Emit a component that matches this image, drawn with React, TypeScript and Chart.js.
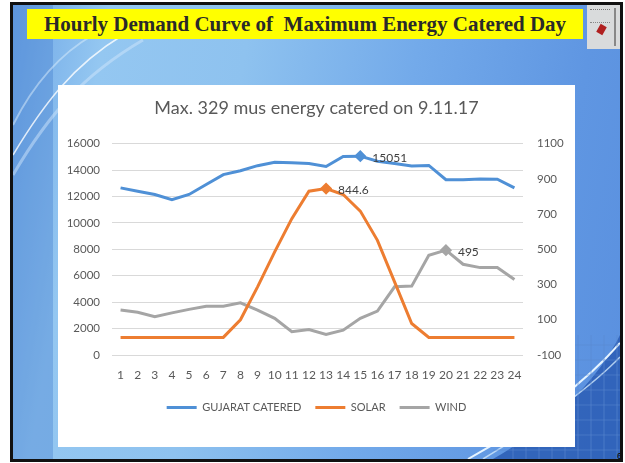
import React, { useEffect, useRef } from "react";
import { Chart, registerables } from "chart.js";

Chart.register(...registerables);

const hours = ["1","2","3","4","5","6","7","8","9","10","11","12","13","14","15","16","17","18","19","20","21","22","23","24"];
const gujaratCatered = [12650, 12400, 12150, 11750, 12150, 12900, 13650, 13950, 14330, 14580, 14550, 14500, 14270, 15030, 15051, 14660, 14500, 14300, 14350, 13270, 13260, 13330, 13300, 12650];
const solar = [0, 0, 0, 0, 0, 0, 0, 100, 287, 485, 674, 830, 844.6, 811, 717, 551, 315, 79, 0, 0, 0, 0, 0, 0];
const wind = [155, 143, 117, 139, 159, 177, 177, 196, 155, 108, 32, 45, 17, 41, 108, 149, 287, 291, 466, 495, 415, 396, 396, 328];
const peakIndex = [14, 12, 19];
const peakLabels = ["15051", "844.6", "495"];
const chartTitle = "Max. 329 mus energy catered on 9.11.17";
const slideTitle = "Hourly Demand Curve of  Maximum Energy Catered Day";

const FONT = "Lato, 'Liberation Sans', sans-serif";

const radiiFor = (peak: number) => hours.map((_, i) => (i === peak ? 4 : 0));

const peakLabelPlugin = {
  id: "peakLabels",
  afterDatasetsDraw(chart: any) {
    const ctx = chart.ctx;
    ctx.save();
    ctx.font = "12px " + FONT;
    ctx.fillStyle = "#404040";
    ctx.textAlign = "left";
    ctx.textBaseline = "middle";
    chart.data.datasets.forEach((ds: any, di: number) => {
      const meta = chart.getDatasetMeta(di);
      const el = meta.data[peakIndex[di]];
      if (el) ctx.fillText(peakLabels[di], el.x + 12, el.y + 2);
    });
    ctx.restore();
  },
};

function ChartBox() {
  const ref = useRef<HTMLCanvasElement | null>(null);
  useEffect(() => {
    if (!ref.current) return;
    const chart = new Chart(ref.current, {
      type: "line",
      data: {
        labels: hours,
        datasets: [
          {
            label: "GUJARAT CATERED",
            data: gujaratCatered,
            borderColor: "#4F90D6",
            backgroundColor: "#4F90D6",
            borderWidth: 3,
            yAxisID: "y",
            pointStyle: "rectRot",
            pointRadius: radiiFor(peakIndex[0]),
            tension: 0,
          },
          {
            label: "SOLAR",
            data: solar,
            borderColor: "#ED7D31",
            backgroundColor: "#ED7D31",
            borderWidth: 3,
            yAxisID: "y1",
            pointStyle: "rectRot",
            pointRadius: radiiFor(peakIndex[1]),
            tension: 0,
          },
          {
            label: "WIND",
            data: wind,
            borderColor: "#A5A5A5",
            backgroundColor: "#A5A5A5",
            borderWidth: 3,
            yAxisID: "y1",
            pointStyle: "rectRot",
            pointRadius: radiiFor(peakIndex[2]),
            tension: 0,
          },
        ],
      },
      options: {
        animation: false,
        responsive: false,
        maintainAspectRatio: false,
        layout: { padding: { top: 0, left: 0, right: 0, bottom: 24 } },
        plugins: {
          title: {
            display: true,
            text: chartTitle,
            color: "#595959",
            font: { family: FONT, size: 18, weight: "normal" },
            padding: { top: 12, bottom: 25 },
          },
          legend: {
            display: true,
            position: "bottom",
            labels: {
              usePointStyle: true,
              pointStyle: "line",
              pointStyleWidth: 30,
              color: "#595959",
              font: { family: FONT, size: 11 },
              padding: 14,
            },
          },
          tooltip: { enabled: false },
        },
        scales: {
          x: {
            offset: true,
            grid: { display: false, drawTicks: false },
            border: { display: false },
            ticks: {
              color: "#595959",
              font: { family: FONT, size: 12 },
              padding: 13,
              maxRotation: 0,
              autoSkip: false,
            },
            afterFit: (s: any) => { s.height = 33; },
          },
          y: {
            position: "left",
            min: 0,
            max: 16000,
            ticks: {
              stepSize: 2000,
              color: "#595959",
              font: { family: FONT, size: 11.5 },
              padding: 12,
              callback: (v: any) => String(v),
            },
            grid: { color: "#d9d9d9", drawTicks: false },
            border: { display: false },
            afterFit: (s: any) => { s.width = 54; },
          },
          y1: {
            position: "right",
            min: -100,
            max: 1100,
            ticks: {
              stepSize: 200,
              color: "#595959",
              font: { family: FONT, size: 11.5 },
              padding: 14,
              callback: (v: any) => String(v),
            },
            grid: { display: false, drawTicks: false },
            border: { display: false },
            afterFit: (s: any) => { s.width = 52; },
          },
        },
      },
      plugins: [peakLabelPlugin],
    } as any);
    return () => chart.destroy();
  }, []);
  return <canvas ref={ref} width={517} height={362} style={{ display: "block" }} />;
}

export default function App() {
  return (
    <div style={{ position: "fixed", left: 0, top: 0, width: 625, height: 463, background: "#fff", overflow: "hidden" }}>
      <div
        style={{
          position: "absolute",
          left: 10,
          top: 2,
          width: 607,
          height: 454,
          border: "3px solid #111",
          background: "linear-gradient(100deg, #6ea6e6 0%, #94c7f1 14%, #8ec2ef 35%, #73aaea 60%, #5f96e2 85%, #5a90df 100%)",
          overflow: "hidden",
        }}
      >
        <svg width={607} height={454} style={{ position: "absolute", left: 0, top: 0 }}>
          <rect x={0} y={0} width={40} height={454} fill="#3f78cc" opacity={0.35} />
          <path d="M0,150 C30,100 60,60 110,30" stroke="#ffffff" strokeWidth={1.5} fill="none" opacity={0.8} />
          <path d="M0,170 C35,110 70,70 130,35" stroke="#cfe6fb" strokeWidth={3} fill="none" opacity={0.5} />
          <path d="M0,120 C20,80 45,50 80,30" stroke="#dbeefc" strokeWidth={2} fill="none" opacity={0.5} />
          <path d="M480,454 C540,420 585,375 607,330 L607,454 Z" fill="#2f62b8" opacity={0.95} />
          <path d="M455,454 C520,418 575,375 607,338" stroke="#e6f4ff" strokeWidth={2} fill="none" />
          <path d="M470,454 C535,415 585,375 607,352" stroke="#cfe7fb" strokeWidth={1.5} fill="none" opacity={0.8} />
          {[0, 1, 2, 3, 4, 5, 6, 7, 8].map((i) => (
            <line key={i} x1={500 + i * 13} y1={454} x2={500 + i * 13} y2={330} stroke="#5a8ad0" strokeWidth={1} opacity={0.6} />
          ))}
          {[0, 1, 2, 3, 4, 5, 6, 7].map((i) => (
            <line key={"h" + i} x1={480} y1={340 + i * 15} x2={607} y2={340 + i * 15} stroke="#5a8ad0" strokeWidth={1} opacity={0.5} />
          ))}
        </svg>
        <div style={{ position: "absolute", right: -2, bottom: -2, fontSize: 9, fontFamily: "'Liberation Sans', sans-serif", color: "#000" }}>6</div>
      </div>
      <div
        style={{
          position: "absolute",
          left: 27,
          top: 9,
          width: 556,
          height: 30,
          background: "#ffff00",
          display: "flex",
          alignItems: "center",
          justifyContent: "center",
        }}
      >
        <span
          style={{
            fontFamily: "'Liberation Serif', 'Times New Roman', serif",
            fontWeight: "bold",
            fontSize: 21,
            color: "#2a2a2a",
            whiteSpace: "pre",
          }}
        >
          {slideTitle}
        </span>
      </div>
      <div style={{ position: "absolute", left: 587, top: 5, width: 33, height: 44, background: "#d9dbdc" }}>
        <div style={{ position: "absolute", left: 3, top: 4, width: 20, height: 12, borderTop: "1px dotted #777", borderBottom: "1px dotted #888" }} />
        <div style={{ position: "absolute", left: 11, top: 20, width: 7, height: 9, background: "#b02020", transform: "rotate(30deg)" }} />
        <div style={{ position: "absolute", left: 27, top: 3, width: 5, height: 38, borderLeft: "2px solid #888" }} />
      </div>
      <div style={{ position: "absolute", left: 58, top: 85, width: 517, height: 362, background: "#fff" }}>
        <ChartBox />
      </div>
    </div>
  );
}
